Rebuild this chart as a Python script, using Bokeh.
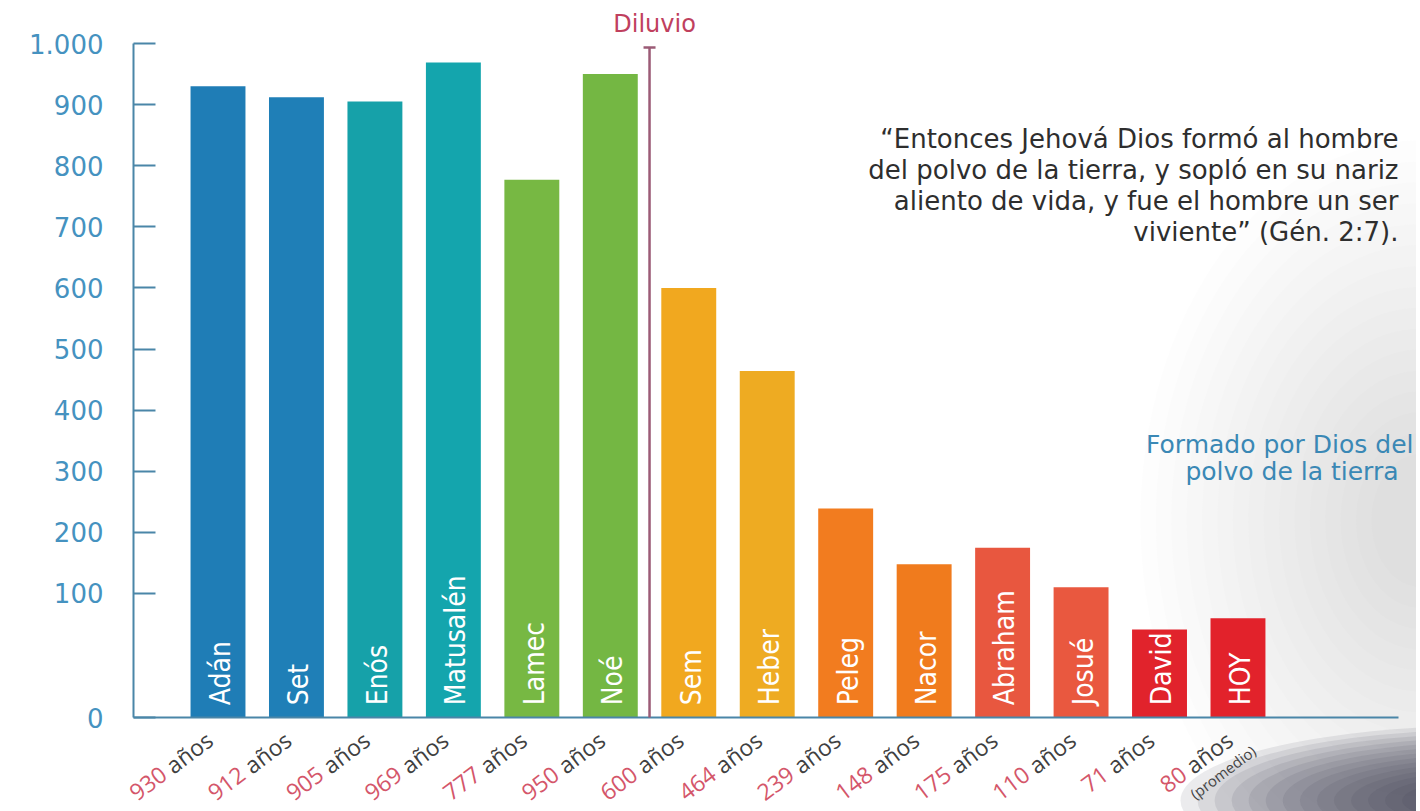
import math
from bokeh.plotting import figure
from bokeh.models import Range1d, FixedTicker, LabelSet, ColumnDataSource
from bokeh.core.properties import value
from bokeh.embed import file_html
from bokeh.resources import INLINE

# ---------------- data ----------------
nombres = ["Adán", "Set", "Enós", "Matusalén", "Lamec", "Noé", "Sem",
           "Heber", "Peleg", "Nacor", "Abraham", "Josué", "David", "HOY"]
edades = [930, 912, 905, 969, 777, 950, 600, 464, 239, 148, 175, 110, 71, 80]
colores = ["#1f7db6", "#1f7fb7", "#16a1a9", "#14a5ad", "#77b843", "#74b743",
           "#f1a81f", "#eeab22", "#f27c1f", "#f07b1d", "#e8573f", "#e9583f",
           "#e1232c", "#e2222b"]
ticks_y = [0, 100, 200, 300, 400, 500, 600, 700, 800, 900, 1000]
etiquetas_y = ["0", "100", "200", "300", "400", "500", "600", "700", "800", "900", "1.000"]
unidad = "años"
nota_hoy = "(promedio)"
diluvio_texto = "Diluvio"
diluvio_entre = (5, 6)          # between Noé and Sem
cita = ["\u201cEntonces Jehová Dios formó al hombre",
        "del polvo de la tierra, y sopló en su nariz",
        "aliento de vida, y fue el hombre un ser",
        "viviente\u201d (Gén. 2:7)."]
formado = ["Formado por Dios del", "polvo de la tierra"]

# broken axis of the original: the 0-100 stretch is drawn taller
TRAMO = 2.03
def eje(v):
    return round(v * TRAMO if v <= 100 else 100 * TRAMO + (v - 100), 3)

# ---------------- layout ----------------
W, H = 1416, 811
px_x = 78.46
px_y = 0.611
X0 = -217.5 / px_x
X1 = X0 + W / px_x
Y1 = 717 / px_y
Y0 = Y1 - H / px_y

def dx(px):   # picture pixel -> data x (annotations only)
    return X0 + px / px_x

def dy(py):
    return Y1 - py / px_y

AXIS_X = dx(133)

p = figure(width=W, height=H, x_range=Range1d(X0, X1), y_range=Range1d(Y0, Y1),
           output_backend="svg", toolbar_location=None, x_axis_location=None,
           min_border_left=0, min_border_right=0, min_border_top=0, min_border_bottom=0)
p.grid.visible = False
p.outline_line_color = None
p.background_fill_color = "white"
p.border_fill_color = "white"

# decorative soft haze and dark stone at the lower right
cx, cy, cw, ch = [], [], [], []
for k in range(16):
    f = 1 - k * 0.055
    cx.append(dx(1420)); cy.append(dy(520)); cw.append(560 * f); ch.append(760 * f)
p.ellipse(x=cx, y=cy, width=cw, height=ch, width_units="screen", height_units="screen",
          fill_color="#b4b8c3", fill_alpha=0.03, line_color=None)
cx, cy, cw, ch = [], [], [], []
for k in range(16):
    f = 1 - k * 0.055
    cx.append(dx(1490)); cy.append(dy(800)); cw.append(620 * f); ch.append(150 * f)
p.ellipse(x=cx, y=cy, width=cw, height=ch, width_units="screen", height_units="screen",
          fill_color="#3a3c50", fill_alpha=0.10, line_color=None)

idx = list(range(len(nombres)))
tops = [eje(v) for v in edades]

p.vbar(x=idx, top=tops, bottom=0, width=0.70, fill_color=colores, line_color=None)

# baseline
axis_col = "#4a86a8"
p.segment(x0=[AXIS_X], y0=[0], x1=[dx(1398)], y1=[0], line_color=axis_col, line_width=2)

# y axis, drawn at a fixed place inside the frame
ya = p.yaxis[0]
ya.fixed_location = AXIS_X
ya.ticker = FixedTicker(ticks=[eje(v) for v in ticks_y])
ya.major_label_overrides = {eje(v): lab for v, lab in zip(ticks_y, etiquetas_y)}
ya.bounds = (0, eje(1000))
ya.axis_line_color = axis_col
ya.axis_line_width = 2
ya.major_tick_line_color = axis_col
ya.major_tick_line_width = 2
ya.major_tick_in = 22
ya.major_tick_out = 0
ya.minor_tick_line_color = None
ya.major_label_standoff = 30
ya.major_label_text_font = "DejaVu Sans"
ya.major_label_text_font_size = "26px"
ya.major_label_text_color = "#4592c0"

# names inside the bars
p.text(x=[i + 0.03 for i in idx], y=[20] * len(idx), text=nombres, angle=math.pi / 2,
       text_align="left", text_baseline="middle", text_color="white",
       text_font=value("DejaVu Sans Condensed"), text_font_size="28px")

# rotated value labels under the bars: number (red) + "años" (gray)
a = math.radians(37)
gap = 3
sx = [i - 52 / px_x for i in idx]
sy = -52 / px_y
ox, oy = gap * math.cos(a) / px_x, gap * math.sin(a) / px_y
src_num = ColumnDataSource(dict(x=[x - ox for x in sx], y=[sy - oy] * len(idx),
                                t=[str(v) for v in edades]))
src_uni = ColumnDataSource(dict(x=[x + ox for x in sx], y=[sy + oy] * len(idx),
                                t=[unidad] * len(idx)))
p.add_layout(LabelSet(x="x", y="y", text="t", source=src_num, angle=a,
                      text_align="right", text_baseline="middle", text_color="#d4566a",
                      text_font=value("Open Sans"), text_font_size="23px"))
p.add_layout(LabelSet(x="x", y="y", text="t", source=src_uni, angle=a,
                      text_align="left", text_baseline="middle", text_color="#404040",
                      text_font=value("Open Sans"), text_font_size="23px"))
src_nota = ColumnDataSource(dict(x=[sx[-1] + 6 / px_x], y=[sy - 26 / px_y], t=[nota_hoy]))
p.add_layout(LabelSet(x="x", y="y", text="t", source=src_nota, angle=a,
                      text_align="left", text_baseline="middle", text_color="#444444",
                      text_font=value("Open Sans"), text_font_size="15px"))

# Diluvio marker
xd = sum(diluvio_entre) / 2
top_d = eje(1000) - 4 / px_y
dil_col = "#9b5b76"
p.segment(x0=[xd], y0=[0], x1=[xd], y1=[top_d], line_color=dil_col, line_width=2.5)
p.segment(x0=[xd - 6 / px_x], y0=[top_d], x1=[xd + 6 / px_x], y1=[top_d],
          line_color=dil_col, line_width=2.5)
p.text(x=[xd + 5 / px_x], y=[top_d + 24 / px_y], text=[diluvio_texto],
       text_align="center", text_baseline="middle", text_color="#c0405e",
       text_font=value("DejaVu Sans"), text_font_size="24px")

# quote
p.text(x=[dx(1398)] * len(cita), y=[dy(138), dy(169), dy(200), dy(231)], text=cita,
       text_align="right", text_baseline="middle", text_color="#2e2e2e",
       text_font=value("DejaVu Sans"), text_font_size="26px")

# caption on the right
p.text(x=[dx(1413), dx(1398)], y=[dy(444), dy(471)], text=formado,
       text_align="right", text_baseline="middle", text_color="#3a88b5",
       text_font=value("DejaVu Sans"), text_font_size="25px")

open("out.html", "w").write(file_html(p, INLINE))
